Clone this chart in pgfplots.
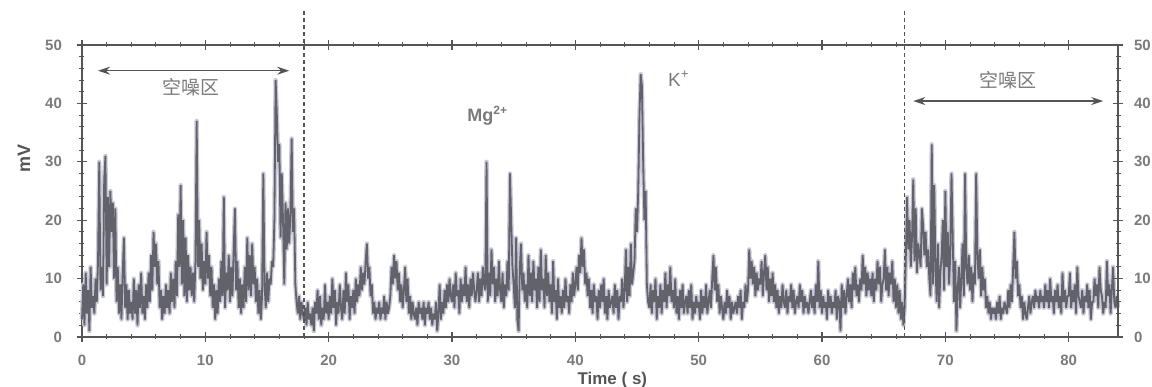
\documentclass[border=0pt]{standalone}
\usepackage{pgfplots}
\pgfplotsset{compat=1.18}
\usepackage{pgfplotstable}
\usepackage{fontspec}
\setmainfont{Liberation Sans}
\newfontfamily\cjk{Noto Sans CJK SC}
\usetikzlibrary{arrows.meta}
\definecolor{txt}{HTML}{7A7A7A}
\definecolor{axc}{HTML}{555555}
\definecolor{core}{HTML}{62626B}
\definecolor{halo}{HTML}{C8C8D8}

\pgfplotstableread[row sep=\\]{
y\\
3\\9\\2\\11\\4\\8\\1\\12\\5\\7\\
4\\10\\6\\13\\30\\8\\12\\7\\27\\31\\
9\\24\\12\\25\\18\\23\\10\\22\\6\\12\\
4\\9\\3\\11\\17\\5\\9\\3\\8\\4\\
6\\3\\10\\4\\8\\2\\9\\5\\11\\4\\
7\\3\\9\\5\\11\\6\\14\\8\\18\\12\\
16\\9\\13\\5\\8\\3\\7\\4\\9\\5\\
8\\4\\11\\6\\10\\5\\13\\7\\21\\12\\
26\\9\\20\\7\\17\\6\\14\\8\\12\\7\\
11\\6\\13\\37\\12\\20\\10\\16\\8\\13\\
9\\18\\10\\14\\7\\12\\5\\9\\3\\8\\
4\\10\\6\\13\\7\\24\\5\\11\\8\\14\\
6\\12\\7\\15\\22\\8\\13\\5\\10\\4\\
9\\5\\12\\6\\17\\8\\14\\7\\16\\9\\
12\\6\\10\\4\\8\\3\\7\\28\\9\\5\\
11\\6\\10\\9\\13\\12\\20\\44\\38\\30\\
33\\17\\28\\20\\9\\23\\15\\22\\16\\21\\
34\\18\\22\\9\\6\\4\\7\\3\\6\\4\\
3\\5\\2\\6\\3\\4\\2\\5\\1\\6\\
4\\8\\3\\7\\2\\5\\3\\9\\4\\6\\
3\\7\\4\\10\\5\\8\\2\\6\\4\\9\\
5\\3\\8\\4\\11\\6\\9\\3\\7\\5\\
8\\4\\10\\6\\9\\7\\12\\8\\11\\9\\
13\\16\\10\\12\\7\\9\\4\\6\\3\\5\\
4\\6\\3\\5\\4\\7\\3\\6\\4\\5\\
7\\12\\9\\14\\10\\13\\8\\11\\6\\9\\
5\\8\\12\\6\\10\\4\\7\\3\\6\\4\\
3\\5\\2\\6\\4\\5\\3\\6\\2\\5\\
4\\6\\3\\5\\2\\4\\3\\6\\1\\4\\
9\\3\\6\\4\\8\\5\\9\\6\\10\\7\\
6\\9\\5\\11\\7\\8\\4\\10\\6\\9\\
7\\12\\6\\9\\5\\10\\7\\11\\8\\6\\
8\\11\\6\\10\\7\\12\\9\\8\\30\\6\\
11\\7\\15\\9\\12\\6\\10\\7\\13\\8\\
6\\11\\5\\9\\7\\13\\8\\28\\20\\12\\
9\\5\\17\\3\\1\\12\\16\\8\\11\\6\\
9\\5\\14\\7\\11\\6\\13\\8\\10\\5\\
12\\6\\15\\8\\10\\5\\14\\7\\11\\6\\
9\\4\\13\\6\\8\\3\\10\\5\\7\\4\\
8\\5\\10\\6\\7\\4\\9\\6\\11\\7\\
9\\12\\8\\14\\11\\17\\12\\15\\9\\11\\
7\\10\\5\\8\\4\\9\\6\\7\\3\\8\\
5\\9\\6\\10\\4\\7\\3\\8\\5\\6\\
7\\4\\9\\5\\8\\3\\7\\6\\10\\5\\
8\\15\\6\\12\\7\\16\\9\\11\\13\\22\\
18\\25\\38\\45\\43\\30\\20\\25\\9\\6\\
5\\9\\4\\8\\6\\10\\3\\7\\5\\9\\
4\\8\\6\\11\\5\\9\\7\\12\\6\\8\\
5\\10\\4\\7\\3\\8\\5\\9\\4\\6\\
7\\4\\8\\5\\9\\3\\6\\4\\7\\5\\
6\\3\\8\\4\\7\\5\\9\\4\\6\\8\\
5\\10\\14\\8\\12\\6\\9\\4\\7\\5\\
3\\6\\4\\8\\5\\7\\3\\6\\4\\5\\
6\\4\\7\\5\\8\\3\\6\\5\\9\\6\\
8\\15\\10\\13\\9\\12\\7\\11\\8\\10\\
9\\13\\7\\11\\14\\8\\12\\6\\10\\7\\
11\\6\\9\\5\\8\\4\\7\\5\\9\\6\\
5\\8\\4\\7\\6\\9\\5\\8\\4\\6\\
7\\5\\9\\6\\8\\4\\7\\5\\6\\4\\
6\\8\\5\\7\\4\\9\\6\\13\\5\\8\\
4\\7\\5\\6\\3\\8\\5\\7\\4\\6\\
5\\8\\3\\7\\6\\1\\9\\5\\8\\4\\
7\\10\\6\\9\\5\\11\\8\\12\\7\\9\\
6\\10\\8\\14\\9\\12\\7\\11\\8\\10\\
7\\11\\6\\10\\8\\13\\9\\12\\6\\9\\
10\\15\\8\\12\\7\\11\\9\\13\\6\\10\\
5\\9\\4\\8\\3\\6\\2\\5\\14\\24\\
15\\20\\12\\17\\27\\13\\22\\11\\16\\14\\
12\\22\\19\\14\\18\\12\\15\\10\\7\\33\\
9\\26\\12\\6\\16\\5\\11\\14\\20\\8\\
25\\12\\18\\9\\14\\28\\17\\6\\13\\1\\
8\\12\\5\\10\\16\\7\\28\\12\\9\\14\\
8\\12\\6\\11\\9\\28\\14\\10\\15\\7\\
12\\8\\10\\5\\7\\4\\6\\3\\5\\4\\
5\\3\\6\\4\\7\\3\\5\\4\\6\\5\\
4\\8\\5\\9\\6\\12\\18\\10\\13\\7\\
9\\5\\7\\3\\6\\4\\3\\5\\7\\4\\
6\\7\\5\\8\\6\\7\\5\\8\\6\\7\\
5\\9\\6\\8\\5\\10\\6\\7\\4\\8\\
6\\9\\5\\7\\4\\11\\6\\8\\5\\7\\
7\\11\\5\\8\\6\\9\\4\\12\\7\\6\\
5\\8\\4\\7\\6\\9\\5\\8\\3\\6\\
6\\10\\7\\9\\5\\12\\8\\7\\4\\6\\
5\\13\\7\\9\\4\\8\\12\\6\\5\\7\\
5\\
}\sig

\pgfplotsset{
  common/.style={
    scale only axis, width=518pt, height=146pt,
    xmin=0, xmax=84, ymin=0, ymax=50,
    ytick={0,10,...,50}, minor y tick num=4,
    tick align=center,
    major tick length=5pt, minor tick length=2.5pt,
    every tick/.style={axc, line width=0.6pt},
    every minor tick/.style={axc, line width=0.5pt},
    tick label style={font=\fontsize{7.5}{8}\selectfont\bfseries, text=txt},
    /pgf/number format/assume math mode=true,
  }
}

\begin{document}
\begin{tikzpicture}
\begin{axis}[common, name=ax,
    axis line style={axc, line width=0.7pt},
    xtick={0,10,...,80}, minor x tick num=4,
    xtick pos=both, ytick pos=left,
    xticklabel style={yshift=-3pt},
    yticklabel style={xshift=-4pt},
    clip=false]
  \addplot[halo, line width=2.2pt, line join=round] table[x expr=\coordindex/10, y=y]{\sig};
  \addplot[core, line width=0.9pt, line join=bevel] table[x expr=\coordindex/10, y=y]{\sig};
  \draw[axc, dash pattern=on 2pt off 1.5pt, line width=0.6pt] (axis cs:18,0) -- (axis cs:18,56);
  \draw[axc, dash pattern=on 2pt off 1.5pt, line width=0.6pt] (axis cs:66.7,0) -- (axis cs:66.7,56);
  \draw[axc, line width=0.6pt, {Stealth[length=6pt,width=4pt]}-{Stealth[length=6pt,width=4pt]}] (axis cs:1.3,45.6) -- (axis cs:16.8,45.6);
  \draw[axc, line width=0.6pt, {Stealth[length=6pt,width=4pt]}-{Stealth[length=6pt,width=4pt]}] (axis cs:67.4,40.4) -- (axis cs:82.8,40.4);
  \node[font=\cjk\fontsize{9.5}{10}\selectfont, text=txt] at (axis cs:8.8,42.8) {空噪区};
  \node[font=\cjk\fontsize{9.5}{10}\selectfont, text=txt] at (axis cs:75.1,44.0) {空噪区};
  \node[font=\fontsize{9}{10}\selectfont\bfseries, text=txt] at (axis cs:32.9,37.9) {Mg\textsuperscript{2+}};
  \node[font=\fontsize{9.5}{10}\selectfont, text=txt] at (axis cs:48.4,44.2) {K\textsuperscript{+}};
  \node[font=\fontsize{8.5}{9}\selectfont\bfseries, text=axc] at ([yshift=-21.5pt]axis cs:43,0) {Time ( s)};
  \node[font=\fontsize{9}{10}\selectfont\bfseries, text=axc, rotate=90] at ([xshift=-29pt]axis cs:0,30.5) {mV};
\end{axis}
\begin{axis}[common,
    axis x line=none, axis y line*=right,
    axis line style={axc, line width=0.7pt},
    yticklabel style={xshift=2pt}]
  \addplot[draw=none] coordinates {(0,0)};
\end{axis}
\pgfresetboundingbox
\path[use as bounding box] ([shift={(-41pt,-25pt)}]ax.south west) rectangle ([shift={(17pt,22.5pt)}]ax.north east);
\end{tikzpicture}
\end{document}
